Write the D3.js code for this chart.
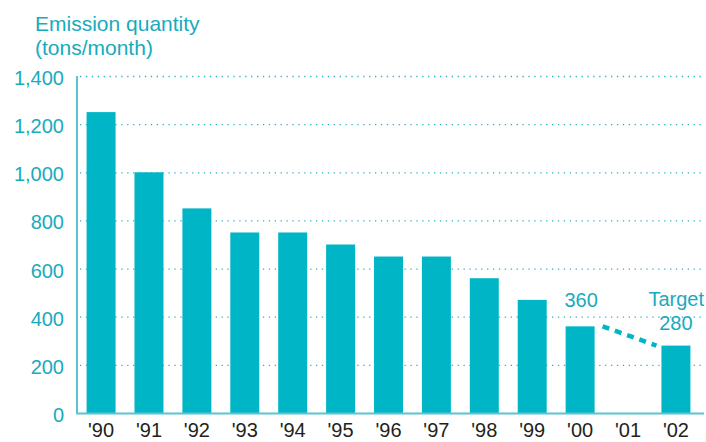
<!DOCTYPE html>
<html>
<head>
<meta charset="utf-8">
<script src="https://cdn.jsdelivr.net/npm/d3@7"></script>
<style>
  body { margin: 0; background: #fff; }
  svg text { font-family: "Liberation Sans", Arial, sans-serif; }
</style>
</head>
<body>
<svg id="vis" width="706" height="442"></svg>
<script>
// data
var years = ["'90", "'91", "'92", "'93", "'94", "'95", "'96", "'97", "'98", "'99", "'00", "'01", "'02"];
var emissions = [1250, 1000, 850, 750, 750, 700, 650, 650, 560, 470, 360, null, 280];
var yTicks = [0, 200, 400, 600, 800, 1000, 1200, 1400];
var targetFrom = {year: "'00", value: 360};
var targetTo = {year: "'02", value: 280};

var teal = "#00b6c6";
var labelTeal = "#17abbd";

var svg = d3.select("#vis");

var x = d3.scaleBand().domain(years).range([77, 700]).paddingInner(0.395).paddingOuter(0.2);
var y = d3.scaleLinear().domain([0, 1400]).range([413, 76]);

// grid lines
svg.append("g")
    .selectAll("line")
    .data(yTicks.filter(function (d) { return d > 0; }))
    .enter()
    .append("line")
    .attr("x1", 80)
    .attr("x2", 704)
    .attr("y1", function (d) { return y(d) + 0.5; })
    .attr("y2", function (d) { return y(d) + 0.5; })
    .attr("stroke", "#2bb3c4")
    .attr("stroke-width", 1.3)
    .attr("stroke-dasharray", "1.3,4.6");

// bars
svg.append("g")
    .selectAll("rect")
    .data(years.map(function (d, i) { return {year: d, value: emissions[i]}; })
        .filter(function (d) { return d.value != null; }))
    .enter()
    .append("rect")
    .attr("x", function (d) { return x(d.year); })
    .attr("y", function (d) { return y(d.value); })
    .attr("width", x.bandwidth())
    .attr("height", function (d) { return y(0) - y(d.value); })
    .attr("fill", teal);

// axes lines
svg.append("line")
    .attr("x1", 77).attr("x2", 77)
    .attr("y1", y(1400)).attr("y2", y(0) + 1)
    .attr("stroke", "#5cc3d2").attr("stroke-width", 2);
svg.append("line")
    .attr("x1", 76).attr("x2", 704)
    .attr("y1", y(0) + 0.5).attr("y2", y(0) + 0.5)
    .attr("stroke", "#5cc3d2").attr("stroke-width", 2);

// y tick labels
svg.append("g")
    .selectAll("text")
    .data(yTicks)
    .enter()
    .append("text")
    .attr("x", 64)
    .attr("y", function (d) { return y(d) + 9; })
    .attr("text-anchor", "end")
    .style("font-size", "20px")
    .attr("fill", labelTeal)
    .text(d3.format(","));

// x tick labels
svg.append("g")
    .selectAll("text")
    .data(years)
    .enter()
    .append("text")
    .attr("x", function (d) { return x(d) + x.bandwidth() / 2; })
    .attr("y", 437)
    .attr("text-anchor", "middle")
    .style("font-size", "20px")
    .attr("fill", "#231f20")
    .text(function (d) { return d; });

// title
svg.append("text")
    .attr("x", 35).attr("y", 31)
    .style("font-size", "21px")
    .attr("fill", labelTeal)
    .text("Emission quantity");
svg.append("text")
    .attr("x", 35).attr("y", 55)
    .style("font-size", "21px")
    .attr("fill", labelTeal)
    .text("(tons/month)");

// dashed target line
svg.append("line")
    .attr("x1", x(targetFrom.year) + x.bandwidth() + 8)
    .attr("y1", y(targetFrom.value))
    .attr("x2", x(targetTo.year) - 5)
    .attr("y2", y(targetTo.value))
    .attr("stroke", teal)
    .attr("stroke-width", 4.5)
    .attr("stroke-dasharray", "7,6");

// annotations
svg.append("text")
    .attr("x", x(targetFrom.year) + x.bandwidth() / 2 + 1)
    .attr("y", 307)
    .attr("text-anchor", "middle")
    .style("font-size", "20px")
    .attr("fill", labelTeal)
    .text(targetFrom.value);
svg.append("text")
    .attr("x", 704)
    .attr("y", 306)
    .attr("text-anchor", "end")
    .style("font-size", "20px")
    .attr("fill", labelTeal)
    .text("Target");
svg.append("text")
    .attr("x", x(targetTo.year) + x.bandwidth() / 2)
    .attr("y", 330)
    .attr("text-anchor", "middle")
    .style("font-size", "20px")
    .attr("fill", labelTeal)
    .text(targetTo.value);
</script>
</body>
</html>
